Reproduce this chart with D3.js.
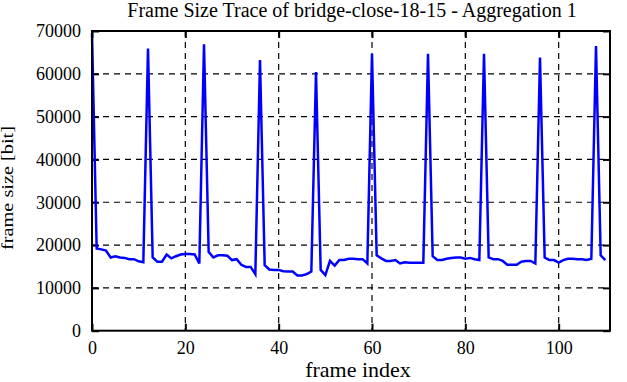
<!DOCTYPE html>
<html>
<head>
<meta charset="utf-8">
<script src="https://cdn.jsdelivr.net/npm/d3@7"></script>
<style>
  body { margin: 0; background: #fff; }
  text { font-family: "Liberation Serif", "Times New Roman", serif; fill: #000; }
</style>
</head>
<body>
<svg width="627" height="382"></svg>
<script>
// frame size per frame index (bit)
var frameSizes = [
  69500, 19200, 19000, 18700, 17100, 17400, 17100, 17000, 16700, 16700, 16200, 16000,
  65900, 17100, 16100, 16100, 17800, 16900, 17400, 17800, 17900, 17900, 17800, 15700,
  66900, 18400, 17100, 17600, 17600, 17500, 16500, 16700, 15400, 14900, 14900, 13200,
  63200, 15300, 14300, 14200, 14200, 13900, 13800, 13800, 12900, 12900, 13200, 13800,
  60400, 14200, 13000, 16300, 15200, 16500, 16500, 16800, 16800, 16700, 16700, 15700,
  64700, 17600, 16900, 16300, 16300, 16500, 15700, 16000, 15900, 15900, 15900, 15900,
  64700, 17400, 16500, 16500, 16800, 17000, 17100, 17100, 16800, 17000, 16700, 16500,
  64700, 17100, 16700, 16700, 16300, 15400, 15400, 15400, 16100, 16300, 16300, 15700,
  63800, 17100, 16500, 16500, 15900, 16500, 16800, 16800, 16700, 16700, 16500, 16800,
  66500, 17600, 16500
];
var xTicks = [0, 20, 40, 60, 80, 100];
var yTicks = [0, 10000, 20000, 30000, 40000, 50000, 60000, 70000];
var xDomain = [0, 111];
var yDomain = [0, 70000];

var svg = d3.select("svg");
var plotL = 92, plotR = 610, plotT = 31, plotB = 330.7;
var serif = '"Liberation Serif", "Times New Roman", serif';

var x = d3.scaleLinear().domain(xDomain).range([plotL, plotR]);
var y = d3.scaleLinear().domain(yDomain).range([plotB, plotT]);

// dashed grid
var grid = svg.append("g")
  .attr("stroke", "#000")
  .attr("stroke-width", 1.2)
  .attr("stroke-dasharray", "6,5");

grid.selectAll("line.gx")
  .data(xTicks.filter(function(d) { return d > xDomain[0] && d < xDomain[1]; }))
  .enter().append("line")
  .attr("class", "gx")
  .attr("x1", function(d) { return x(d); })
  .attr("x2", function(d) { return x(d); })
  .attr("y1", plotT)
  .attr("y2", plotB);

grid.selectAll("line.gy")
  .data(yTicks.filter(function(d) { return d > yDomain[0] && d < yDomain[1]; }))
  .enter().append("line")
  .attr("class", "gy")
  .attr("x1", plotL)
  .attr("x2", plotR)
  .attr("y1", function(d) { return y(d); })
  .attr("y2", function(d) { return y(d); });

// axes, ticks pointing inward, mirrored on top/right
function styleAxis(g) {
  g.attr("font-family", serif).attr("font-size", 18);
  g.select(".domain").remove();
  g.selectAll(".tick line").attr("stroke", "#000").attr("stroke-width", 2);
  g.selectAll(".tick text").attr("fill", "#000");
}

svg.append("g")
  .attr("transform", "translate(0," + plotB + ")")
  .call(d3.axisBottom(x).tickValues(xTicks).tickSize(-7).tickPadding(10.5).tickFormat(d3.format("d")))
  .call(styleAxis);

svg.append("g")
  .attr("transform", "translate(0," + plotT + ")")
  .call(d3.axisTop(x).tickValues(xTicks).tickSize(-7).tickFormat(""))
  .call(styleAxis);

svg.append("g")
  .attr("transform", "translate(" + plotL + ",0)")
  .call(d3.axisLeft(y).tickValues(yTicks).tickSize(-7).tickPadding(11).tickFormat(d3.format("d")))
  .call(styleAxis);

svg.append("g")
  .attr("transform", "translate(" + plotR + ",0)")
  .call(d3.axisRight(y).tickValues(yTicks).tickSize(-7).tickFormat(""))
  .call(styleAxis);

// trace
var line = d3.line()
  .x(function(d, i) { return x(i); })
  .y(function(d) { return y(d); });

svg.append("path")
  .datum(frameSizes)
  .attr("fill", "none")
  .attr("stroke", "#0000ff")
  .attr("stroke-width", 2.5)
  .attr("d", line);

// border
svg.append("rect")
  .attr("x", plotL)
  .attr("y", plotT)
  .attr("width", plotR - plotL)
  .attr("height", plotB - plotT)
  .attr("fill", "none")
  .attr("stroke", "#000")
  .attr("stroke-width", 2);

// labels
svg.append("text")
  .attr("x", 352)
  .attr("y", 16.5)
  .attr("text-anchor", "middle")
  .style("font-size", "20px")
  .text("Frame Size Trace of bridge-close-18-15 - Aggregation 1");

svg.append("text")
  .attr("x", 358)
  .attr("y", 376.5)
  .attr("text-anchor", "middle")
  .style("font-size", "22px")
  .text("frame index");

svg.append("text")
  .attr("transform", "translate(13," + 188 + ") rotate(-90)")
  .attr("text-anchor", "middle")
  .attr("textLength", 124)
  .attr("lengthAdjust", "spacingAndGlyphs")
  .style("font-size", "16px")
  .text("frame size [bit]");
</script>
</body>
</html>
